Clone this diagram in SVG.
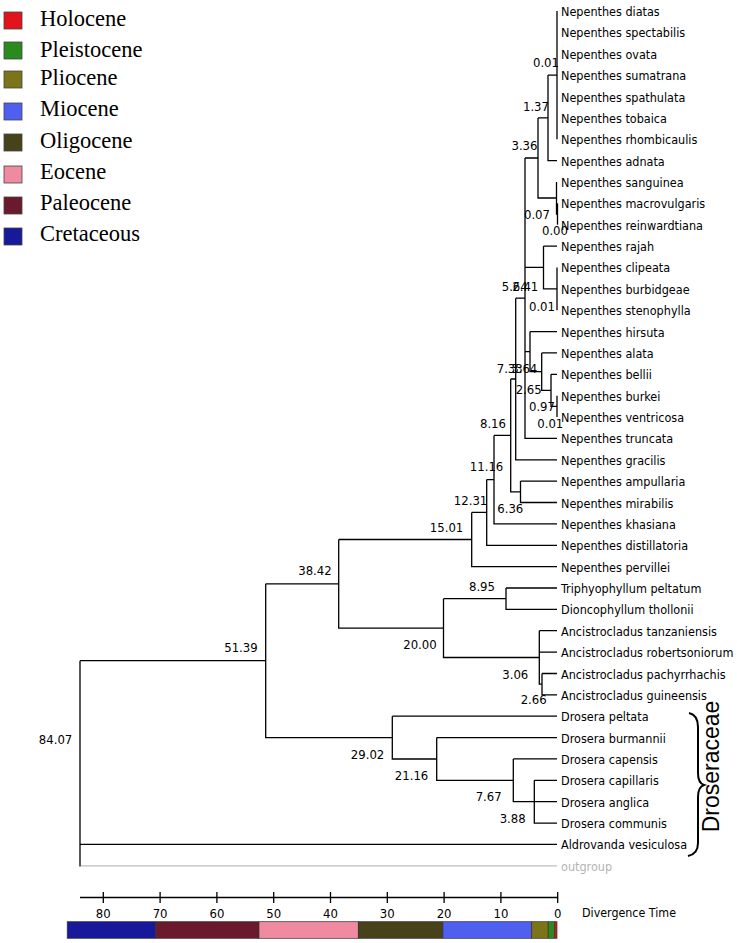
<svg xmlns="http://www.w3.org/2000/svg" width="737" height="943" viewBox="0 0 737 943">
<style>
.bg{fill:#fff}
.leaf{font-family:'DejaVu Sans Condensed','DejaVu Sans',sans-serif;font-stretch:condensed;font-size:12.5px;fill:#000}
.og{fill:#b4b4b4}
.nl{font-family:'DejaVu Sans Condensed','DejaVu Sans',sans-serif;font-stretch:condensed;font-size:13px;fill:#000;text-anchor:end}
.ns{text-anchor:start}
.br{fill:none;stroke:#000;stroke-width:1.3}
.gr{fill:none;stroke:#bdbdbd;stroke-width:1.3}
.lg{font-family:'Liberation Serif',serif;font-size:22.5px;fill:#000}
.sq{stroke:#444;stroke-width:0.8}
.ax{font-family:'DejaVu Sans Condensed','DejaVu Sans',sans-serif;font-stretch:condensed;font-size:13px;fill:#000;text-anchor:middle}
.seg{stroke:#333;stroke-width:0.7}
</style>
<rect class="bg" x="0" y="0" width="737" height="943"/>

<g id="legend">
<g id="lg-holocene"><rect class="sq" x="4" y="12" width="18" height="17" fill="#e3131b"/><text class="lg" x="40" y="26">Holocene</text></g>
<g id="lg-pleistocene"><rect class="sq" x="4" y="42" width="18" height="17" fill="#2b8a1f"/><text class="lg" x="40" y="57">Pleistocene</text></g>
<g id="lg-pliocene"><rect class="sq" x="4" y="71" width="18" height="17" fill="#7b7419"/><text class="lg" x="40" y="85">Pliocene</text></g>
<g id="lg-miocene"><rect class="sq" x="4" y="103" width="18" height="17" fill="#4f5ff0"/><text class="lg" x="40" y="116">Miocene</text></g>
<g id="lg-oligocene"><rect class="sq" x="4" y="134" width="18" height="17" fill="#474219"/><text class="lg" x="40" y="148">Oligocene</text></g>
<g id="lg-eocene"><rect class="sq" x="4" y="166" width="18" height="17" fill="#ef8aa0"/><text class="lg" x="40" y="179">Eocene</text></g>
<g id="lg-paleocene"><rect class="sq" x="4" y="197" width="18" height="17" fill="#6a1a2c"/><text class="lg" x="40" y="210">Paleocene</text></g>
<g id="lg-cretaceous"><rect class="sq" x="4" y="228" width="18" height="17" fill="#18189a"/><text class="lg" x="40" y="241">Cretaceous</text></g>
</g>

<g id="connectors">
<path class="br" d="M557,11V139.2"/>
<path class="br" d="M548,75.1V160.6H557M548,75.1H557"/>
<path class="br" d="M557.5,203.3V224.7"/>
<path class="br" d="M556.5,182V214H557.5"/>
<path class="br" d="M538,117.9V198H556.5M538,117.9H548"/>
<path class="br" d="M557,267.4V310.2"/>
<path class="br" d="M543.5,246.1V288.8H557M543.5,246.1H557"/>
<path class="br" d="M557,395.7V417"/>
<path class="br" d="M551,374.3V406.4H557M551,374.3H557"/>
<path class="br" d="M541.7,352.9V390.3H551M541.7,352.9H557"/>
<path class="br" d="M530,331.6V371.6H541.7M530,331.6H557"/>
<path class="br" d="M525,158V438.4H557M525,158H538M525,267.4H543.5M525,351.6H530"/>
<path class="br" d="M515.7,298.2V459.8H557M515.7,298.2H525"/>
<path class="br" d="M520.5,481.1V502.5H557M520.5,481.1H557"/>
<path class="br" d="M510.7,379V491.8H520.5M510.7,379H515.7"/>
<path class="br" d="M494,435.4V523.9H557M494,435.4H510.7"/>
<path class="br" d="M486.7,479.6V545.3H557M486.7,479.6H494"/>
<path class="br" d="M471.7,512.4V566.6H557M471.7,512.4H486.7"/>
<path class="br" d="M506,588V609.4H557M506,588H557"/>
<path class="br" d="M542,673.5V694.8H557M542,673.5H557"/>
<path class="br" d="M539.3,630.7V684.2H542M539.3,630.7H557M539.3,652.1H557"/>
<path class="br" d="M443.5,598.7V657.5H539.3M443.5,598.7H506"/>
<path class="br" d="M338.7,539.5V628.1H443.5M338.7,539.5H471.7"/>
<path class="br" d="M534.3,780.3V823.1H557M534.3,780.3H557M534.3,801.7H557"/>
<path class="br" d="M513.3,758.9V801.7H534.3M513.3,758.9H557"/>
<path class="br" d="M436.7,737.6V780.3H513.3M436.7,737.6H557"/>
<path class="br" d="M392.3,716.2V759H436.7M392.3,716.2H557"/>
<path class="br" d="M265.7,583.8V737.6H392.3M265.7,583.8H338.7"/>
<path class="br" d="M80,660.7V866.5M80,660.7H265.7M80,844.4H557"/>
<path class="gr" d="M81,865.8H557"/>
</g>

<g id="leaves">
<g id="n-diatas"><text class="leaf" x="561" y="16">Nepenthes diatas</text></g>
<g id="n-spectabilis"><text class="leaf" x="561" y="37.4">Nepenthes spectabilis</text></g>
<g id="n-ovata"><text class="leaf" x="561" y="58.7">Nepenthes ovata</text></g>
<g id="n-sumatrana"><text class="leaf" x="561" y="80.1">Nepenthes sumatrana</text></g>
<g id="n-spathulata"><text class="leaf" x="561" y="101.5">Nepenthes spathulata</text></g>
<g id="n-tobaica"><text class="leaf" x="561" y="122.9">Nepenthes tobaica</text></g>
<g id="n-rhombicaulis"><text class="leaf" x="561" y="144.2">Nepenthes rhombicaulis</text></g>
<g id="n-adnata"><text class="leaf" x="561" y="165.6">Nepenthes adnata</text></g>
<g id="n-sanguinea"><text class="leaf" x="561" y="187">Nepenthes sanguinea</text></g>
<g id="n-macrovulgaris"><text class="leaf" x="561" y="208.3">Nepenthes macrovulgaris</text></g>
<g id="n-reinwardtiana"><text class="leaf" x="561" y="229.7">Nepenthes reinwardtiana</text></g>
<g id="n-rajah"><text class="leaf" x="561" y="251.1">Nepenthes rajah</text></g>
<g id="n-clipeata"><text class="leaf" x="561" y="272.4">Nepenthes clipeata</text></g>
<g id="n-burbidgeae"><text class="leaf" x="561" y="293.8">Nepenthes burbidgeae</text></g>
<g id="n-stenophylla"><text class="leaf" x="561" y="315.2">Nepenthes stenophylla</text></g>
<g id="n-hirsuta"><text class="leaf" x="561" y="336.6">Nepenthes hirsuta</text></g>
<g id="n-alata"><text class="leaf" x="561" y="357.9">Nepenthes alata</text></g>
<g id="n-bellii"><text class="leaf" x="561" y="379.3">Nepenthes bellii</text></g>
<g id="n-burkei"><text class="leaf" x="561" y="400.7">Nepenthes burkei</text></g>
<g id="n-ventricosa"><text class="leaf" x="561" y="422">Nepenthes ventricosa</text></g>
<g id="n-truncata"><text class="leaf" x="561" y="443.4">Nepenthes truncata</text></g>
<g id="n-gracilis"><text class="leaf" x="561" y="464.8">Nepenthes gracilis</text></g>
<g id="n-ampullaria"><text class="leaf" x="561" y="486.1">Nepenthes ampullaria</text></g>
<g id="n-mirabilis"><text class="leaf" x="561" y="507.5">Nepenthes mirabilis</text></g>
<g id="n-khasiana"><text class="leaf" x="561" y="528.9">Nepenthes khasiana</text></g>
<g id="n-distillatoria"><text class="leaf" x="561" y="550.3">Nepenthes distillatoria</text></g>
<g id="n-pervillei"><text class="leaf" x="561" y="571.6">Nepenthes pervillei</text></g>
<g id="n-triphyophyllum"><text class="leaf" x="561" y="593">Triphyophyllum peltatum</text></g>
<g id="n-dioncophyllum"><text class="leaf" x="561" y="614.4">Dioncophyllum thollonii</text></g>
<g id="n-tanzaniensis"><text class="leaf" x="561" y="635.7">Ancistrocladus tanzaniensis</text></g>
<g id="n-robertsoniorum"><text class="leaf" x="561" y="657.1">Ancistrocladus robertsoniorum</text></g>
<g id="n-pachyrrhachis"><text class="leaf" x="561" y="678.5">Ancistrocladus pachyrrhachis</text></g>
<g id="n-guineensis"><text class="leaf" x="561" y="699.8">Ancistrocladus guineensis</text></g>
<g id="n-peltata"><text class="leaf" x="561" y="721.2">Drosera peltata</text></g>
<g id="n-burmannii"><text class="leaf" x="561" y="742.6">Drosera burmannii</text></g>
<g id="n-capensis"><text class="leaf" x="561" y="763.9">Drosera capensis</text></g>
<g id="n-capillaris"><text class="leaf" x="561" y="785.3">Drosera capillaris</text></g>
<g id="n-anglica"><text class="leaf" x="561" y="806.7">Drosera anglica</text></g>
<g id="n-communis"><text class="leaf" x="561" y="828.1">Drosera communis</text></g>
<g id="n-aldrovanda"><text class="leaf" x="561" y="849.4">Aldrovanda vesiculosa</text></g>
<g id="n-outgroup"><text class="leaf og" x="561" y="870.8">outgroup</text></g>
</g>

<g id="node-labels">
<g id="a-0-01a"><text class="nl" x="559" y="67.4">0.01</text></g>
<g id="a-1-37"><text class="nl" x="549" y="110.7">1.37</text></g>
<g id="a-3-36"><text class="nl" x="537.5" y="149.7">3.36</text></g>
<g id="a-0-07"><text class="nl" x="550" y="219">0.07</text></g>
<g id="a-0-00"><text class="nl" x="568" y="234.7">0.00</text></g>
<g id="a-5-64"><text class="nl ns" x="501.7" y="291.4">5.64</text></g>
<g id="a-2-41"><text class="nl" x="538.3" y="291.4">2.41</text></g>
<g id="a-0-01b"><text class="nl" x="555" y="310.7">0.01</text></g>
<g id="a-7-33"><text class="nl ns" x="496.7" y="373">7.33</text></g>
<g id="a-3-64"><text class="nl" x="537.3" y="373">3.64</text></g>
<g id="a-2-65"><text class="nl" x="541.7" y="394">2.65</text></g>
<g id="a-0-97"><text class="nl" x="555" y="411.4">0.97</text></g>
<g id="a-0-01c"><text class="nl" x="563.3" y="428">0.01</text></g>
<g id="a-8-16"><text class="nl" x="506" y="428">8.16</text></g>
<g id="a-11-16"><text class="nl" x="503.3" y="471.4">11.16</text></g>
<g id="a-6-36"><text class="nl" x="523.3" y="513">6.36</text></g>
<g id="a-12-31"><text class="nl" x="487.3" y="504.7">12.31</text></g>
<g id="a-15-01"><text class="nl" x="463.3" y="532">15.01</text></g>
<g id="a-8-95"><text class="nl" x="495" y="590.7">8.95</text></g>
<g id="a-20-00"><text class="nl" x="436.7" y="649">20.00</text></g>
<g id="a-3-06"><text class="nl" x="528.3" y="678.7">3.06</text></g>
<g id="a-2-66"><text class="nl" x="546.7" y="704">2.66</text></g>
<g id="a-38-42"><text class="nl" x="331.7" y="575.4">38.42</text></g>
<g id="a-51-39"><text class="nl" x="257.7" y="652.4">51.39</text></g>
<g id="a-84-07"><text class="nl" x="72.3" y="743.7">84.07</text></g>
<g id="a-29-02"><text class="nl" x="384.3" y="759">29.02</text></g>
<g id="a-21-16"><text class="nl" x="428.3" y="780.4">21.16</text></g>
<g id="a-7-67"><text class="nl" x="501.7" y="801.4">7.67</text></g>
<g id="a-3-88"><text class="nl" x="525.7" y="823">3.88</text></g>
</g>

<g id="droseraceae">
<path d="M689,713 Q698,715 698,727 L698,773 Q698,783 704,785 Q698,787 698,797 L698,843 Q698,854 688,856" fill="none" stroke="#000" stroke-width="2"/>
<text transform="translate(718.5,766.5) rotate(-90)" font-family="'Liberation Sans',Arial,sans-serif" font-size="23" text-anchor="middle">Droseraceae</text>
</g>

<g id="axis">
<path class="br" d="M80,897.5H557.7M103.3,892V903M160.1,892V903M216.9,892V903M273.7,892V903M330.5,892V903M387.3,892V903M444.1,892V903M500.9,892V903M557.7,892V903"/>
<text class="ax" x="103.3" y="917.5">80</text>
<text class="ax" x="160.1" y="917.5">70</text>
<text class="ax" x="216.9" y="917.5">60</text>
<text class="ax" x="273.7" y="917.5">50</text>
<text class="ax" x="330.5" y="917.5">40</text>
<text class="ax" x="387.3" y="917.5">30</text>
<text class="ax" x="444.1" y="917.5">20</text>
<text class="ax" x="500.9" y="917.5">10</text>
<text class="ax" x="557.7" y="917.5">0</text>
<text class="leaf" x="582" y="917" textLength="94" lengthAdjust="spacingAndGlyphs">Divergence Time</text>
<rect class="seg" x="67.2" y="921.7" width="88.4" height="16.6" fill="#18189a"/>
<rect class="seg" x="155.6" y="921.7" width="103.4" height="16.6" fill="#6a1a2c"/>
<rect class="seg" x="259" y="921.7" width="99.3" height="16.6" fill="#ef8aa0"/>
<rect class="seg" x="358.3" y="921.7" width="84.6" height="16.6" fill="#474219"/>
<rect class="seg" x="442.9" y="921.7" width="88.8" height="16.6" fill="#4f5ff0"/>
<rect class="seg" x="531.7" y="921.7" width="16.5" height="16.6" fill="#7b7419"/>
<rect class="seg" x="548.2" y="921.7" width="6.6" height="16.6" fill="#2b8a1f"/>
<rect class="seg" x="554.8" y="921.7" width="2.2" height="16.6" fill="#e3131b"/>
</g>
</svg>
